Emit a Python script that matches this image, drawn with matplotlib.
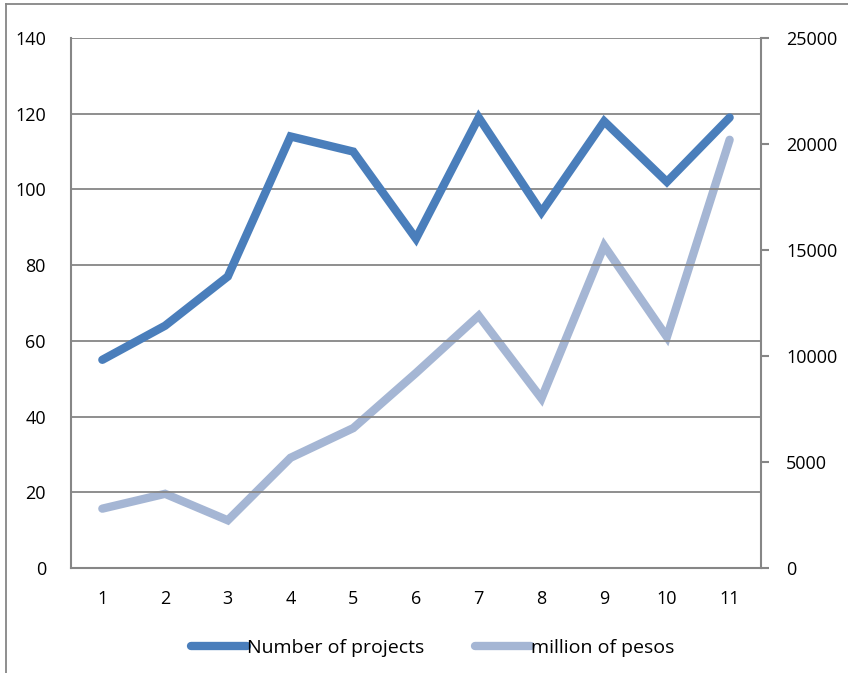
import matplotlib
matplotlib.use('Agg')
import matplotlib.pyplot as plt
from matplotlib.lines import Line2D

plt.rcParams['font.family'] = ['Open Sans', 'DejaVu Sans']

periods = [1, 2, 3, 4, 5, 6, 7, 8, 9, 10, 11]
projects = [55, 64, 77, 114, 110, 87, 119, 94, 118, 102, 119]
pesos = [2800, 3500, 2250, 5200, 6600, 9200, 11900, 8000, 15200, 10900, 20200]

dark = '#4a7ebb'
light = '#a5b6d4'
gray = '#868686'

fig = plt.figure(figsize=(8.48, 6.73), dpi=100)
ax = fig.add_axes([0.0837, 0.156, 0.8137, 0.7875])
ax2 = ax.twinx()

ax.set_xlim(0.5, 11.5)
ax.set_ylim(0, 140)
ax2.set_ylim(0, 25000)
ax.set_yticks(range(0, 141, 20))
ax2.set_yticks(range(0, 25001, 5000))
ax.set_xticks(periods)
ax.yaxis.grid(True, color=gray, lw=1.3)
ax.set_axisbelow(True)

ax2.plot(periods, pesos, color=light, lw=6, solid_capstyle='round', solid_joinstyle='miter')
ax.plot(periods, projects, color=dark, lw=6, solid_capstyle='round', solid_joinstyle='miter', zorder=5)
ax.set_zorder(ax2.get_zorder() + 1)
ax.patch.set_visible(False)

for a in (ax, ax2):
    for s in a.spines.values():
        s.set_visible(False)
ax.spines['left'].set_visible(True)
ax.spines['bottom'].set_visible(True)
ax2.spines['right'].set_visible(True)
for s in (ax.spines['left'], ax.spines['bottom'], ax2.spines['right']):
    s.set_color(gray)
    s.set_linewidth(1.5)

ax.tick_params(axis='y', length=0, pad=18, labelsize=13)
ax.tick_params(axis='x', length=0, pad=16, labelsize=13)
ax2.tick_params(axis='y', length=6, width=1.5, color=gray, pad=12, labelsize=13)

handles = [Line2D([], [], color=dark, lw=6, solid_capstyle='round'),
           Line2D([], [], color=light, lw=6, solid_capstyle='round')]
fig.legend(handles, ['Number of projects', 'million of pesos'], loc='center',
           bbox_to_anchor=(0.51, 0.037), ncol=2, frameon=False, fontsize=14,
           handlelength=2.9, handletextpad=0.0, columnspacing=2.6)

# outer chart frame (left and top edges visible in the crop)
fig.add_artist(Line2D([0.007, 0.007], [0, 0.994], color=gray, lw=1.3))
fig.add_artist(Line2D([0.007, 1], [0.994, 0.994], color=gray, lw=1.3))

fig.savefig('out.png', dpi=100)
